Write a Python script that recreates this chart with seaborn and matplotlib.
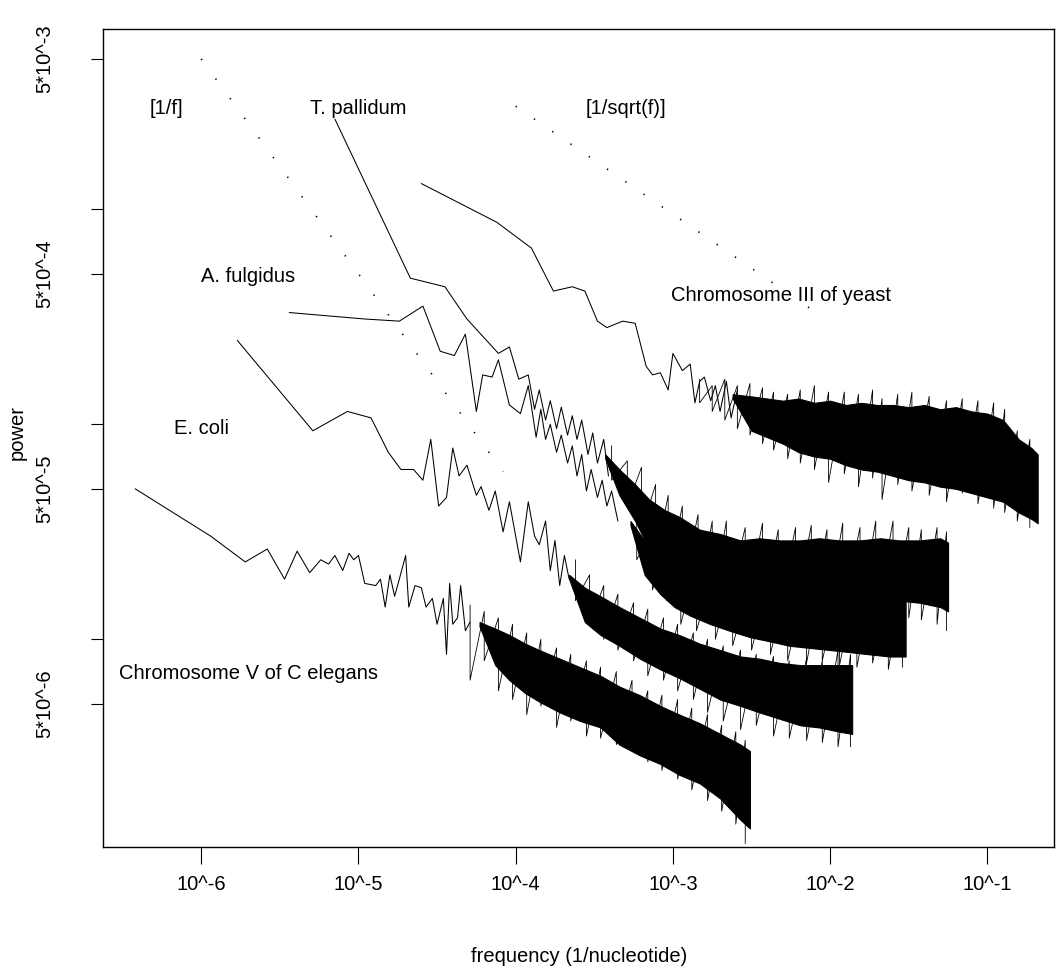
import numpy as np
import pandas as pd
import matplotlib
matplotlib.use("Agg")
import matplotlib.pyplot as plt
import seaborn as sns

# every value below is log10(frequency) / log10(power)
# "_lf" = log frequency, "_lp" = log power
# "_core_*" = solid part of the dense high-frequency noise, "_spike_*" = extremes of the noise

# Chromosome III of yeast
yeast_lf = [-4.60, -4.12, -3.90, -3.76, -3.64, -3.56, -3.48, -3.42, -3.32, -3.24, -3.17, -3.13,
            -3.08, -3.03, -3.00, -2.94, -2.89, -2.86, -2.83, -2.80, -2.76, -2.73, -2.70, -2.66,
            -2.63, -2.59]
yeast_lp = [-2.88, -3.06, -3.18, -3.38, -3.36, -3.38, -3.52, -3.55, -3.52, -3.53, -3.73, -3.77,
            -3.76, -3.84, -3.67, -3.75, -3.72, -3.90, -3.80, -3.78, -3.89, -3.82, -3.94, -3.80,
            -3.97, -3.84]
yeast_core_lf = [-2.62, -2.50, -2.40, -2.30, -2.20, -2.10, -2.00, -1.90, -1.80, -1.70, -1.60,
                 -1.50, -1.40, -1.30, -1.20, -1.10, -1.00, -0.90, -0.80, -0.72, -0.68]
yeast_core_hi = [-3.86, -3.87, -3.88, -3.89, -3.88, -3.90, -3.89, -3.91, -3.90, -3.91, -3.91,
                 -3.92, -3.91, -3.93, -3.92, -3.94, -3.95, -3.98, -4.07, -4.11, -4.14]
yeast_core_lo = [-3.88, -4.03, -4.06, -4.09, -4.13, -4.15, -4.16, -4.19, -4.21, -4.22, -4.24,
                 -4.26, -4.27, -4.29, -4.30, -4.32, -4.34, -4.36, -4.41, -4.44, -4.46]
yeast_spike_lf = [-2.83, -2.75, -2.67, -2.59, -2.51, -2.43, -2.36, -2.27, -2.19, -2.10, -2.01,
                  -1.91, -1.82, -1.73, -1.67, -1.57, -1.48, -1.37, -1.26, -1.16, -1.06, -0.96,
                  -0.89, -0.81, -0.73]
yeast_spike_hi = [-3.79, -3.82, -3.79, -3.82, -3.81, -3.83, -3.85, -3.86, -3.84, -3.82, -3.85,
                  -3.85, -3.86, -3.84, -3.88, -3.86, -3.85, -3.87, -3.89, -3.88, -3.89, -3.90,
                  -3.93, -4.03, -4.07]
yeast_spike_lo = [-3.90, -3.94, -3.98, -4.02, -4.05, -4.09, -4.12, -4.16, -4.18, -4.21, -4.27,
                  -4.23, -4.29, -4.25, -4.35, -4.28, -4.31, -4.33, -4.36, -4.32, -4.37, -4.39,
                  -4.41, -4.45, -4.48]

# T. pallidum
tpal_lf = [-5.15, -4.67, -4.45, -4.31, -4.11, -4.04, -3.98, -3.92, -3.88, -3.85, -3.81, -3.78,
           -3.74, -3.71, -3.67, -3.64, -3.61, -3.58, -3.54, -3.51, -3.48, -3.44, -3.41]
tpal_lp = [-2.58, -3.32, -3.36, -3.51, -3.67, -3.64, -3.79, -3.77, -3.93, -3.84, -3.98, -3.89,
           -4.02, -3.92, -4.05, -3.96, -4.07, -3.98, -4.14, -4.04, -4.18, -4.07, -4.24]
tpal_core_lf = [-3.43, -3.34, -3.24, -3.15, -3.05, -2.96, -2.83, -2.70, -2.57, -2.45, -2.32,
                -2.19, -2.07, -1.94, -1.81, -1.68, -1.56, -1.43, -1.30, -1.25]
tpal_core_hi = [-4.14, -4.21, -4.28, -4.35, -4.40, -4.43, -4.49, -4.51, -4.54, -4.53, -4.54,
                -4.54, -4.53, -4.54, -4.54, -4.53, -4.54, -4.54, -4.53, -4.55]
tpal_core_lo = [-4.16, -4.33, -4.45, -4.58, -4.67, -4.72, -4.77, -4.79, -4.80, -4.81, -4.81,
                -4.81, -4.81, -4.81, -4.81, -4.82, -4.82, -4.83, -4.85, -4.87]
tpal_spike_lf = [-3.39, -3.29, -3.20, -3.11, -3.03, -2.94, -2.84, -2.75, -2.66, -2.54, -2.43,
                 -2.33, -2.22, -2.12, -2.02, -1.92, -1.81, -1.71, -1.60, -1.50, -1.42, -1.32,
                 -1.26]
tpal_spike_hi = [-4.10, -4.17, -4.20, -4.28, -4.33, -4.38, -4.42, -4.45, -4.45, -4.48, -4.46,
                 -4.49, -4.48, -4.47, -4.49, -4.46, -4.48, -4.45, -4.45, -4.48, -4.49, -4.48,
                 -4.50]
tpal_spike_lo = [-4.26, -4.38, -4.49, -4.63, -4.70, -4.77, -4.82, -4.84, -4.84, -4.86, -4.86,
                 -4.87, -4.86, -4.87, -4.89, -4.87, -4.88, -4.89, -4.87, -4.90, -4.91, -4.93,
                 -4.96]

# A. fulgidus
afu_lf = [-5.44, -4.96, -4.74, -4.59, -4.48, -4.39, -4.32, -4.25, -4.21, -4.15, -4.11, -4.04,
          -3.97, -3.92, -3.87, -3.84, -3.81, -3.78, -3.74, -3.71, -3.67, -3.64, -3.61, -3.58,
          -3.55, -3.52, -3.48, -3.45, -3.42, -3.39, -3.35]
afu_lp = [-3.48, -3.51, -3.52, -3.45, -3.66, -3.68, -3.58, -3.94, -3.77, -3.78, -3.70, -3.91,
          -3.95, -3.82, -4.06, -3.93, -4.07, -4.00, -4.13, -4.05, -4.18, -4.10, -4.24, -4.14,
          -4.31, -4.21, -4.34, -4.26, -4.38, -4.31, -4.45]
afu_core_lf = [-3.27, -3.18, -3.08, -2.99, -2.89, -2.76, -2.64, -2.51, -2.38, -2.26, -2.13,
               -2.00, -1.87, -1.75, -1.62, -1.52]
afu_core_hi = [-4.45, -4.54, -4.61, -4.65, -4.69, -4.71, -4.73, -4.75, -4.75, -4.76, -4.77,
               -4.77, -4.77, -4.78, -4.78, -4.78]
afu_core_lo = [-4.47, -4.70, -4.79, -4.85, -4.89, -4.93, -4.96, -4.99, -5.01, -5.03, -5.04,
               -5.05, -5.06, -5.07, -5.08, -5.08]
afu_spike_lf = [-3.23, -3.13, -3.04, -2.95, -2.85, -2.73, -2.62, -2.50, -2.38, -2.27, -2.15,
                -2.05, -1.94, -1.83, -1.73, -1.63, -1.54]
afu_spike_hi = [-4.42, -4.49, -4.56, -4.61, -4.63, -4.65, -4.68, -4.70, -4.69, -4.71, -4.70,
                -4.72, -4.73, -4.72, -4.74, -4.75, -4.75]
afu_spike_lo = [-4.63, -4.77, -4.82, -4.93, -4.96, -5.00, -5.03, -5.05, -5.07, -5.10, -5.11,
                -5.10, -5.12, -5.13, -5.11, -5.14, -5.13]

# E. coli
eco_lf = [-5.77, -5.29, -5.07, -4.92, -4.81, -4.73, -4.65, -4.59, -4.54, -4.49, -4.44, -4.40,
          -4.36, -4.31, -4.25, -4.22, -4.17, -4.13, -4.08, -4.04, -3.97, -3.92, -3.88, -3.85,
          -3.81, -3.78, -3.75, -3.72, -3.69, -3.66]
eco_lp = [-3.61, -4.03, -3.94, -3.97, -4.13, -4.21, -4.21, -4.26, -4.07, -4.38, -4.34, -4.11,
          -4.24, -4.19, -4.33, -4.29, -4.40, -4.31, -4.50, -4.36, -4.64, -4.36, -4.52, -4.56,
          -4.45, -4.68, -4.54, -4.75, -4.61, -4.72]
eco_core_lf = [-3.66, -3.56, -3.46, -3.34, -3.21, -3.08, -2.96, -2.83, -2.70, -2.57, -2.45,
               -2.32, -2.19, -2.07, -1.94, -1.86]
eco_core_hi = [-4.70, -4.76, -4.80, -4.85, -4.90, -4.95, -4.98, -5.02, -5.05, -5.08, -5.09,
               -5.11, -5.12, -5.12, -5.12, -5.12]
eco_core_lo = [-4.72, -4.92, -4.98, -5.03, -5.09, -5.14, -5.18, -5.23, -5.28, -5.31, -5.34,
               -5.37, -5.40, -5.41, -5.43, -5.44]
eco_spike_lf = [-3.62, -3.53, -3.44, -3.35, -3.25, -3.16, -3.06, -2.97, -2.87, -2.78, -2.68,
                -2.57, -2.47, -2.36, -2.26, -2.15, -2.05, -1.95, -1.87]
eco_spike_hi = [-4.63, -4.70, -4.75, -4.79, -4.83, -4.86, -4.90, -4.93, -4.97, -5.00, -5.03,
                -5.05, -5.07, -5.08, -5.10, -5.09, -5.10, -5.05, -5.07]
eco_spike_lo = [-4.82, -4.93, -5.00, -5.05, -5.10, -5.17, -5.19, -5.24, -5.28, -5.34, -5.38,
                -5.42, -5.40, -5.45, -5.46, -5.47, -5.48, -5.50, -5.50]

# Chromosome V of C elegans
cel_lf = [-6.42, -5.94, -5.72, -5.58, -5.47, -5.39, -5.31, -5.24, -5.19, -5.15, -5.10, -5.06,
          -5.03, -5.00, -4.96, -4.89, -4.86, -4.83, -4.80, -4.77, -4.74, -4.70, -4.68, -4.64,
          -4.60, -4.57, -4.53, -4.50, -4.46, -4.44, -4.42, -4.40, -4.37, -4.35, -4.32, -4.29]
cel_lp = [-4.30, -4.52, -4.64, -4.58, -4.72, -4.59, -4.69, -4.63, -4.65, -4.61, -4.68, -4.60,
          -4.63, -4.61, -4.74, -4.75, -4.72, -4.85, -4.70, -4.80, -4.72, -4.61, -4.85, -4.75,
          -4.76, -4.85, -4.81, -4.93, -4.81, -5.07, -4.74, -4.93, -4.90, -4.75, -4.96, -4.92]
cel_core_lf = [-4.23, -4.13, -4.04, -3.94, -3.85, -3.72, -3.59, -3.46, -3.34, -3.21, -3.08,
               -2.96, -2.83, -2.70, -2.57, -2.51]
cel_core_hi = [-4.92, -4.95, -4.98, -5.02, -5.05, -5.09, -5.13, -5.17, -5.22, -5.26, -5.31,
               -5.35, -5.39, -5.44, -5.49, -5.52]
cel_core_lo = [-4.94, -5.12, -5.19, -5.25, -5.29, -5.34, -5.38, -5.41, -5.49, -5.54, -5.58,
               -5.63, -5.67, -5.74, -5.84, -5.88]
cel_spike_lf = [-4.29, -4.20, -4.11, -4.02, -3.93, -3.84, -3.74, -3.65, -3.55, -3.46, -3.36,
                -3.26, -3.16, -3.07, -2.97, -2.88, -2.78, -2.69, -2.60, -2.54]
cel_spike_hi = [-4.84, -4.87, -4.90, -4.93, -4.97, -5.00, -5.04, -5.07, -5.10, -5.13, -5.15,
                -5.19, -5.24, -5.26, -5.28, -5.32, -5.35, -5.40, -5.43, -5.47]
cel_spike_lo = [-5.19, -5.10, -5.24, -5.28, -5.35, -5.31, -5.41, -5.38, -5.45, -5.46, -5.49,
                -5.52, -5.57, -5.61, -5.65, -5.70, -5.75, -5.80, -5.86, -5.95]

# dotted reference slopes
ref_f_lf = [-6.0, -4.08]
ref_f_lp = [-2.30, -4.22]
ref_sqrt_lf = [-4.0, -2.03]
ref_sqrt_lp = [-2.52, -3.51]

x_tick_freq = [1e-6, 1e-5, 1e-4, 1e-3, 1e-2, 1e-1]
x_tick_labels = ["10^-6", "10^-5", "10^-4", "10^-3", "10^-2", "10^-1"]
y_tick_power = [5e-3, 1e-3, 5e-4, 1e-4, 5e-5, 1e-5, 5e-6]
y_tick_labels = ["5*10^-3", "", "5*10^-4", "", "5*10^-5", "", "5*10^-6"]

lines = pd.concat([
    pd.DataFrame({"series": "yeast", "lf": yeast_lf, "lp": yeast_lp}),
    pd.DataFrame({"series": "tpal", "lf": tpal_lf, "lp": tpal_lp}),
    pd.DataFrame({"series": "afu", "lf": afu_lf, "lp": afu_lp}),
    pd.DataFrame({"series": "eco", "lf": eco_lf, "lp": eco_lp}),
    pd.DataFrame({"series": "cel", "lf": cel_lf, "lp": cel_lp}),
], ignore_index=True)

cores = [
    (yeast_core_lf, yeast_core_hi, yeast_core_lo),
    (tpal_core_lf, tpal_core_hi, tpal_core_lo),
    (afu_core_lf, afu_core_hi, afu_core_lo),
    (eco_core_lf, eco_core_hi, eco_core_lo),
    (cel_core_lf, cel_core_hi, cel_core_lo),
]
spikes = [
    (yeast_spike_lf, yeast_spike_hi, yeast_spike_lo),
    (tpal_spike_lf, tpal_spike_hi, tpal_spike_lo),
    (afu_spike_lf, afu_spike_hi, afu_spike_lo),
    (eco_spike_lf, eco_spike_hi, eco_spike_lo),
    (cel_spike_lf, cel_spike_hi, cel_spike_lo),
]

sns.set_style("white")
plt.rcParams["font.family"] = ["Liberation Sans", "DejaVu Sans"]
plt.rcParams["text.color"] = "black"
plt.rcParams["axes.labelcolor"] = "black"
fs = 14.5

fig = plt.figure(figsize=(10.57, 9.77), dpi=100)
ax = fig.add_axes([0.0977, 0.1331, 0.8995, 0.8372])

sns.lineplot(data=lines, x="lf", y="lp", units="series", estimator=None, sort=False,
             color="black", linewidth=0.75, ax=ax, legend=False)
for bx, hi, lo in cores:
    ax.fill_between(bx, hi, lo, color="black", linewidth=0.8)
# noise extremes: the trace runs up to each top value and down to each bottom value
for sx, hi, lo in spikes:
    zx = np.repeat(sx, 2)
    zy = np.column_stack([hi, lo]).ravel()
    ax.plot(zx, zy, color="black", linewidth=0.6)

# dotted 1/f and 1/sqrt(f) guides
ax.plot(ref_f_lf, ref_f_lp, color="black", linewidth=1.2, dashes=(0.8, 13.8))
ax.plot(ref_sqrt_lf, ref_sqrt_lp, color="black", linewidth=1.2, dashes=(0.8, 12.5))

notes = [
    ("[1/f]", -6.22, -2.53),
    ("T. pallidum", -5.00, -2.53),
    ("[1/sqrt(f)]", -3.30, -2.53),
    ("A. fulgidus", -5.70, -3.31),
    ("E. coli", -6.00, -4.02),
    ("Chromosome V of C elegans", -5.70, -5.16),
    ("Chromosome III of yeast", -2.31, -3.40),
]
for txt, x, y in notes:
    ax.text(x, y, txt, ha="center", va="center", fontsize=fs, color="black")

ax.set_xlim(-6.623, -0.576)
ax.set_ylim(-5.966, -2.161)
ax.set_xticks(np.log10(x_tick_freq))
ax.set_xticklabels(x_tick_labels, fontsize=fs)
ax.set_yticks(np.log10(y_tick_power))
ax.set_yticklabels(y_tick_labels, fontsize=fs, rotation=90, va="center")
ax.tick_params(axis="x", bottom=True, direction="out", length=12, width=0.8, pad=8,
               color="black", labelcolor="black")
ax.tick_params(axis="y", left=True, direction="out", length=8.6, width=0.8, pad=27,
               color="black", labelcolor="black")
for sp in ax.spines.values():
    sp.set_color("black")
    sp.set_linewidth(1.0)

ax.set_xlabel("frequency (1/nucleotide)", fontsize=fs)
ax.set_ylabel("power", fontsize=fs)
ax.xaxis.set_label_coords(0.5, -0.1345)
ax.xaxis.label.set_va("center")
ax.yaxis.set_label_coords(-0.0908, 0.507)
ax.yaxis.label.set_va("center")

fig.savefig("out.png", dpi=100)
